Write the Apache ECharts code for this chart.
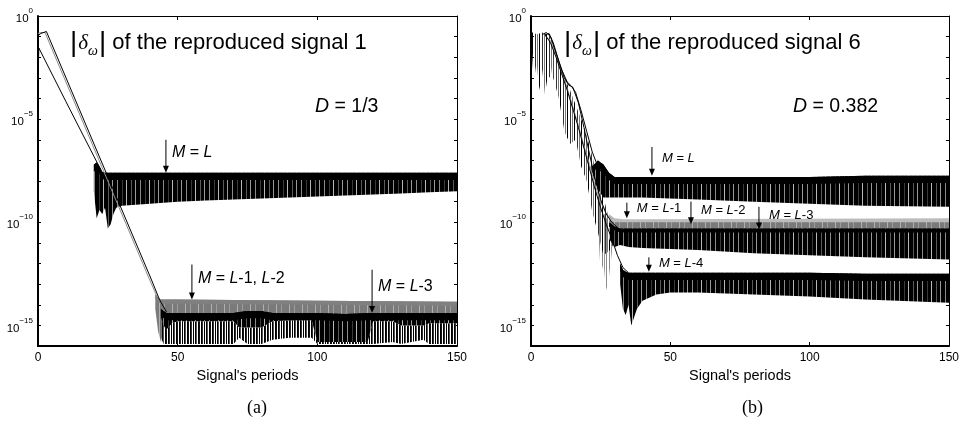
<!DOCTYPE html>
<html>
<head>
<meta charset="utf-8">
<script src="https://cdn.jsdelivr.net/npm/echarts@6/dist/echarts.min.js"></script>
<style>
  html, body { margin: 0; padding: 0; background: #fff; }
  #chart { width: 964px; height: 423px; }
</style>
</head>
<body>
<div id="chart"></div>
<script>
// all y values are log10 of |delta_omega| (axis shows 10^n)
var xTicks = [0, 50, 100, 150];
var yLabelExps = [0, -5, -10, -15];

// ---- panel (a), signal 1 ----
var aGrayX = [0, 1, 2.5, 10, 20, 30, 40, 42.6];
var aGrayY = [-0.85, -0.8, -0.8, -3.2, -6.4, -9.6, -12.8, -13.6];
var aBlackX = [0, 1, 3, 10.5, 20.5, 30.5, 40.5, 43.5, 46];
var aBlackY = [-0.95, -0.85, -0.75, -3.15, -6.35, -9.55, -12.75, -13.75, -14.35];
var aLowX = [0, 0.3, 10, 20, 22.5];
var aLowY = [-3.0, -1.55, -4.15, -6.8, -7.45];

var aBandLX = [20, 21, 22, 23, 24, 25, 26, 27, 28, 30, 35, 40, 50, 60, 70, 80, 90, 100, 110, 120, 130, 140, 150];
var aBandLTop = [-7.2, -7.1, -7.3, -7.55, -7.6, -7.6, -7.6, -7.6, -7.6, -7.6, -7.6, -7.6, -7.6, -7.6, -7.6, -7.6, -7.6, -7.6, -7.6, -7.6, -7.6, -7.6, -7.6];
var aBandLBot = [-8.5, -9.8, -9.4, -9.6, -9.3, -10.3, -10.1, -9.6, -9.3, -9.2, -9.15, -9.1, -9.0, -8.95, -8.9, -8.85, -8.8, -8.75, -8.7, -8.65, -8.6, -8.55, -8.5];

var aBandL12X = [42, 43, 44, 45, 46, 50, 100, 150];
var aBandL12Top = [-13.5, -13.65, -13.75, -13.75, -13.75, -13.75, -13.8, -13.85];
var aBandL12Bot = [-14.2, -15.3, -15.8, -15.2, -14.8, -14.6, -14.6, -14.6];

var aBandL3X = [44, 45, 46, 48, 50, 60, 70, 72, 75, 80, 84, 90, 98, 100, 110, 118, 120, 127, 130, 138, 140, 150];
var aBandL3Top = [-14.2, -14.3, -14.4, -14.4, -14.4, -14.4, -14.4, -14.35, -14.3, -14.3, -14.4, -14.4, -14.4, -14.4, -14.45, -14.4, -14.4, -14.4, -14.4, -14.4, -14.4, -14.4];
var aBandL3Bot = [-14.6, -15.0, -15.2, -14.9, -14.8, -14.8, -14.8, -15.1, -15.1, -15.1, -14.8, -14.75, -14.75, -15.8, -15.8, -15.8, -14.8, -14.8, -15.0, -15.0, -14.9, -14.9];
var aSpikeL3Bot = [-15.6, -15.9, -15.9, -15.9, -15.9, -15.9, -15.9, -15.6, -15.9, -15.9, -15.7, -15.6, -15.6, -15.9, -15.9, -15.9, -15.9, -15.8, -15.9, -15.7, -15.9, -15.9];

// ---- panel (b), signal 6 ----
var bStartX = [0, 1, 2, 3, 4, 5, 6, 7, 8];
var bStartTop = [-0.8, -0.8, -0.9, -0.85, -0.8, -0.85, -0.9, -1.0, -1.4];
var bStartBot = [-1.0, -3.2, -2.2, -3.6, -2.6, -3.8, -2.9, -3.0, -2.0];

var bSpikeX = [8, 10, 12, 14, 16, 18, 20, 22, 24, 26, 28, 30];
var bSpikeTop = [-1.6, -2.3, -3.0, -3.6, -4.3, -5.0, -5.8, -6.8, -7.8, -8.8, -9.8, -10.5];
var bSpikeBot = [-3.0, -4.0, -5.6, -6.2, -6.0, -7.3, -8.0, -9.5, -10.5, -11.6, -11.4, -11.0];
var bGraySpikeX = [24, 25, 26, 27, 28, 29, 30];
var bGraySpikeTop = [-8.5, -9.0, -9.5, -9.8, -9.9, -9.9, -9.9];
var bGraySpikeBot = [-10.0, -12.5, -12.0, -13.3, -12.6, -11.5, -10.8];

var bCurve1X = [4, 5.5, 7, 9, 11, 13, 14.5, 16, 18, 20, 22, 24, 26, 28];
var bCurve1Y = [-0.9, -0.8, -1.0, -1.8, -2.6, -3.2, -3.4, -3.7, -4.6, -5.6, -6.6, -7.3, -7.7, -7.8];
var bCurve2X = [5, 6.5, 8, 10, 12, 13.5, 15, 17, 19, 21, 23, 25, 27, 29, 31];
var bCurve2Y = [-0.9, -0.85, -1.3, -2.2, -3.0, -3.35, -3.45, -4.2, -5.4, -6.7, -7.9, -8.9, -9.6, -10.0, -10.25];
var bCurve3X = [5, 7, 9, 11, 13, 15, 17, 19, 21, 23, 25, 27, 29, 31, 33, 35];
var bCurve3Y = [-0.9, -1.3, -2.0, -2.8, -3.6, -4.5, -5.4, -6.4, -7.4, -8.4, -9.3, -10.1, -10.8, -11.6, -12.2, -12.45];
var bCurve4X = [5, 7, 9, 11, 13, 15, 17, 19, 21, 23, 25, 27, 29];
var bCurve4Y = [-0.95, -1.2, -1.9, -2.7, -3.5, -4.4, -5.3, -6.3, -7.2, -8.2, -9.0, -9.6, -9.85];

var bBandLX = [22, 24, 26, 28, 30, 40, 60, 80, 100, 120, 150];
var bBandLTop = [-7.3, -7.0, -7.2, -7.6, -7.8, -7.8, -7.8, -7.8, -7.8, -7.75, -7.75];
var bBandLBot = [-7.6, -8.4, -8.8, -8.8, -8.8, -8.8, -8.9, -9.0, -9.1, -9.2, -9.25];

var bBandL3X = [28, 30, 33, 40, 150];
var bBandL3Top = [-9.6, -9.8, -9.85, -9.85, -9.8];
var bBandL3Bot = [-10.1, -10.1, -10.1, -10.1, -10.1];
var bBandL2X = [28, 30, 33, 40, 150];
var bBandL2Top = [-9.9, -10.0, -10.0, -10.0, -10.0];
var bBandL2Bot = [-10.3, -10.3, -10.3, -10.3, -10.3];

var bBandL1X = [28, 30, 32, 35, 40, 60, 80, 100, 120, 150];
var bBandL1Top = [-10.0, -10.2, -10.3, -10.3, -10.3, -10.3, -10.3, -10.3, -10.3, -10.3];
var bBandL1Bot = [-10.8, -11.2, -11.1, -11.2, -11.25, -11.35, -11.5, -11.6, -11.7, -11.8];

var bBandL4X = [32, 33, 34, 35, 36, 38, 40, 45, 50, 60, 80, 100, 120, 150];
var bBandL4Top = [-12.0, -12.3, -12.4, -12.45, -12.45, -12.45, -12.45, -12.45, -12.45, -12.45, -12.45, -12.45, -12.5, -12.5];
var bBandL4Bot = [-13.0, -14.2, -14.5, -14.0, -15.0, -14.2, -13.8, -13.5, -13.4, -13.4, -13.5, -13.6, -13.75, -13.9];

// annotations: [panel, arrowX, arrowFrom, arrowTip, label, fontSize]
var notes = [
  [0, 45.8, -6.0, -7.6, 'L', 16],
  [0, 55.1, -12.05, -13.75, 'L-1, L-2', 16],
  [0, 119.6, -12.3, -14.4, 'L-3', 16],
  [1, 43.4, -6.35, -7.75, 'L', 13],
  [1, 34.4, -9.05, -9.8, 'L-1', 13],
  [1, 57.4, -9.0, -10.1, 'L-2', 13],
  [1, 81.8, -9.25, -10.35, 'L-3', 13],
  [1, 42.3, -11.7, -12.4, 'L-4', 13]
];

var chartDom = document.getElementById('chart');
var myChart = echarts.init(chartDom, null, { renderer: 'canvas' });

function makePattern(w, base, cols) {
  var c = document.createElement('canvas');
  c.width = w; c.height = 8;
  var g = c.getContext('2d');
  if (base) { g.fillStyle = base; g.fillRect(0, 0, w, 8); }
  cols.forEach(function (cc) { g.fillStyle = cc[1]; g.fillRect(cc[0], 0, 1, 8); });
  return { image: c, repeat: 'repeat' };
}
var denseBlack = makePattern(23, '#000', [[2, '#8a8a8a'], [7, '#3a3a3a'], [11, '#b8b8b8'], [16, '#5a5a5a'], [20, '#999']]);
var sparseBlack = makePattern(11, null, [[0, '#000'], [1, '#111'], [3, '#000'], [4, '#333'], [6, '#000'], [8, '#000'], [9, '#555']]);
var thinBlack = makePattern(7, null, [[0, '#000'], [3, '#333'], [5, '#777']]);
var denseGray = makePattern(13, '#7a7a7a', [[3, '#b0b0b0'], [8, '#9c9c9c']]);
var sparseGray = makePattern(7, null, [[0, '#888'], [2, '#999'], [4, '#8a8a8a']]);

function lineS(gi, xs, ys, color) {
  return {
    type: 'line', xAxisIndex: gi * 2, yAxisIndex: gi * 2,
    data: xs.map(function (x, i) { return [x, ys[i]]; }),
    symbol: 'none', silent: true, z: 5,
    lineStyle: { color: color, width: 1 }
  };
}

function bandS(gi, xs, top, bot, fill, cap) {
  return {
    type: 'custom', xAxisIndex: gi * 2, yAxisIndex: gi * 2, clip: true, silent: true, z: 3,
    data: xs.map(function (x, i) { return [x, top[i], bot[i]]; }),
    encode: { x: 0, y: 1 },
    renderItem: function (params, api) {
      if (params.dataIndex !== 0) return null;
      var pts = [], capPts = [], i;
      for (i = 0; i < xs.length; i++) pts.push(api.coord([xs[i], top[i]]));
      for (i = xs.length - 1; i >= 0; i--) pts.push(api.coord([xs[i], bot[i]]));
      var kids = [{ type: 'polygon', shape: { points: pts }, style: { fill: fill } }];
      if (cap) {
        for (i = 0; i < xs.length; i++) capPts.push(api.coord([xs[i], top[i]]));
        for (i = xs.length - 1; i >= 0; i--) capPts.push(api.coord([xs[i], Math.max(bot[i], top[i] - cap.depth)]));
        kids.push({ type: 'polygon', shape: { points: capPts }, style: { fill: cap.color } });
      }
      return { type: 'group', children: kids };
    }
  };
}

function noteS(gi) {
  var list = notes.filter(function (n) { return n[0] === gi; });
  return {
    type: 'custom', xAxisIndex: gi * 2, yAxisIndex: gi * 2, silent: true, z: 10,
    data: list.map(function (n) { return [n[1], n[2], n[3]]; }),
    encode: { x: 0, y: 1 },
    renderItem: function (params, api) {
      var n = list[params.dataIndex];
      var p1 = api.coord([n[1], n[2]]), p2 = api.coord([n[1], n[3]]);
      var fs = n[5];
      return {
        type: 'group', children: [
          { type: 'line', shape: { x1: p1[0], y1: p1[1], x2: p2[0], y2: p2[1] - 5 }, style: { stroke: '#000', lineWidth: 1 } },
          { type: 'polygon', shape: { points: [[p2[0] - 3, p2[1] - 7], [p2[0] + 3, p2[1] - 7], [p2[0], p2[1]]] }, style: { fill: '#000' } },
          {
            type: 'text', x: p1[0] + (fs > 14 ? 6 : 10), y: p1[1] + (p2[1] - p1[1]) * 0.4,
            style: {
              text: '{i|M} = ' + n[4].replace(/L/g, '{i|L}'),
              rich: { i: { fontStyle: 'italic', fontSize: fs, fontFamily: 'Liberation Sans' } },
              font: fs + 'px "Liberation Sans"', fill: '#000', verticalAlign: 'middle', align: 'left'
            }
          }
        ]
      };
    }
  };
}

function xAx(gi, top) {
  return {
    type: 'value', gridIndex: gi, min: 0, max: 150, interval: 50,
    position: top ? 'top' : 'bottom',
    name: top ? '' : "Signal's periods", nameLocation: 'middle', nameGap: 21,
    nameTextStyle: { fontFamily: 'Liberation Sans', fontSize: 14.5, color: '#000' },
    axisLine: { show: true, onZero: false, lineStyle: { color: '#000', width: top ? 1 : 2 } },
    axisTick: { show: true, inside: true, length: 4, lineStyle: { color: '#000' } },
    axisLabel: { show: !top, color: '#000', fontFamily: 'Liberation Sans', fontSize: 12, margin: 6 },
    splitLine: { show: false }
  };
}
function yAx(gi, right) {
  return {
    type: 'value', gridIndex: gi, min: -16, max: 0, interval: 1,
    position: right ? 'right' : 'left',
    axisLine: { show: true, onZero: false, lineStyle: { color: '#000', width: right ? 1 : 2 } },
    axisTick: { show: true, inside: true, length: 3, lineStyle: { color: '#000' } },
    axisLabel: {
      show: !right, margin: 5, color: '#000', showMinLabel: true, showMaxLabel: true,
      formatter: function (v) {
        if (yLabelExps.indexOf(v) < 0) return '';
        return '{b|10}{s|' + (v === 0 ? '0' : '\u2212' + (-v)) + '}';
      },
      rich: {
        b: { fontFamily: 'Liberation Sans', fontSize: 11.5, lineHeight: 18, verticalAlign: 'bottom', color: '#000' },
        s: { fontFamily: 'Liberation Sans', fontSize: 8, lineHeight: 10, verticalAlign: 'top', color: '#000' }
      }
    },
    splitLine: { show: false }
  };
}

function titleText(x, num) {
  return {
    type: 'text', left: x, top: 29,
    style: {
      text: '{bar||}{d|\u03b4}{w|\u03c9}{bar||}{t| of the reproduced signal ' + num + '}',
      rich: {
        bar: { fontFamily: 'Liberation Sans', fontSize: 28, lineHeight: 30, fill: '#000' },
        d: { fontFamily: 'Liberation Serif', fontStyle: 'italic', fontSize: 21, fill: '#000', padding: [0, 0, 0, 1] },
        w: { fontFamily: 'Liberation Serif', fontStyle: 'italic', fontSize: 14, lineHeight: 14, verticalAlign: 'bottom', fill: '#000', padding: [0, 1, 0, 0] },
        t: { fontFamily: 'Liberation Sans', fontSize: 22, fill: '#000' }
      }
    }
  };
}
function dText(x, val) {
  return {
    type: 'text', left: x, top: 97,
    style: {
      text: '{i|D} = ' + val,
      rich: { i: { fontStyle: 'italic', fontFamily: 'Liberation Sans', fontSize: 19.5, fill: '#000' } },
      font: '19.5px "Liberation Sans"', fill: '#000'
    }
  };
}
function capText(cx, t) {
  return {
    type: 'text', left: cx - 12, top: 399,
    style: { text: t, font: '18px "Liberation Serif"', fill: '#000' }
  };
}

var capBlack = { depth: 0.35, color: '#000' };

var option = {
  animation: false,
  backgroundColor: '#fff',
  grid: [
    { left: 38, top: 16, width: 419, height: 330 },
    { left: 531, top: 16, width: 418, height: 330 }
  ],
  xAxis: [xAx(0, false), xAx(0, true), xAx(1, false), xAx(1, true)],
  yAxis: [yAx(0, false), yAx(0, true), yAx(1, false), yAx(1, true)],
  series: [
    // panel a
    bandS(0, aBandL12X, aBandL12Top, aBandL12Bot, denseGray, { depth: 0.2, color: '#808080' }),
    bandS(0, aBandL3X, aBandL3Bot, aSpikeL3Bot, sparseBlack),
    bandS(0, aBandL3X, aBandL3Top, aBandL3Bot, denseBlack, capBlack),
    bandS(0, aBandLX, aBandLTop, aBandLBot, denseBlack, capBlack),
    lineS(0, aGrayX, aGrayY, '#8c8c8c'),
    lineS(0, aBlackX, aBlackY, '#000'),
    lineS(0, aLowX, aLowY, '#000'),
    noteS(0),
    // panel b
    bandS(1, bStartX, bStartTop, bStartBot, thinBlack),
    bandS(1, bGraySpikeX, bGraySpikeTop, bGraySpikeBot, sparseGray),
    bandS(1, bSpikeX, bSpikeTop, bSpikeBot, thinBlack),
    bandS(1, bBandLX, bBandLTop, bBandLBot, denseBlack, capBlack),
    bandS(1, bBandL3X, bBandL3Top, bBandL3Bot, '#bcbcbc'),
    bandS(1, bBandL2X, bBandL2Top, bBandL2Bot, denseGray),
    bandS(1, bBandL1X, bBandL1Top, bBandL1Bot, denseBlack, { depth: 0.2, color: '#000' }),
    bandS(1, bBandL4X, bBandL4Top, bBandL4Bot, denseBlack, capBlack),
    lineS(1, bCurve4X, bCurve4Y, '#999'),
    lineS(1, bCurve1X, bCurve1Y, '#000'),
    lineS(1, bCurve2X, bCurve2Y, '#000'),
    lineS(1, bCurve3X, bCurve3Y, '#000'),
    noteS(1)
  ],
  graphic: [
    titleText(70, 1), titleText(564, 6),
    dText(315, '1/3'), dText(793, '0.382'),
    capText(259, '(a)'), capText(754, '(b)')
  ]
};

if (option && typeof option === 'object') {
  myChart.setOption(option);
}
</script>
</body>
</html>
